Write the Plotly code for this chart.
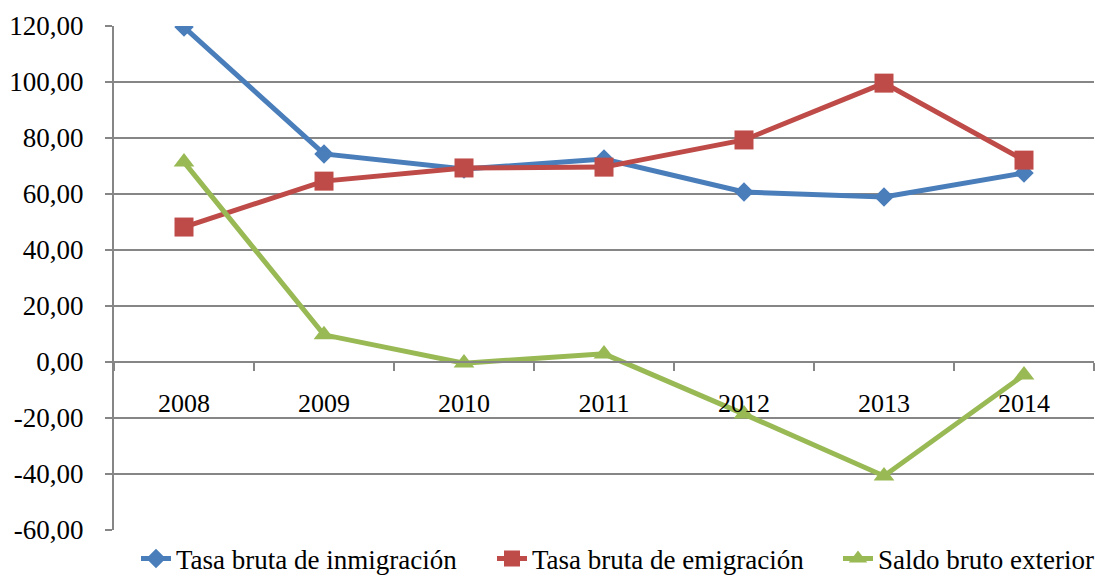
import plotly.graph_objects as go

years = ["2008", "2009", "2010", "2011", "2012", "2013", "2014"]
inmigracion = [119.6, 74.3, 68.9, 72.5, 60.7, 58.9, 67.5]
emigracion = [48.2, 64.6, 69.3, 69.6, 79.3, 99.6, 72.1]
saldo = [71.4, 9.7, -0.4, 2.9, -18.6, -40.7, -4.6]

y_ticks = [-60, -40, -20, 0, 20, 40, 60, 80, 100, 120]
y_labels = ["-60,00", "-40,00", "-20,00", "0,00", "20,00", "40,00",
            "60,00", "80,00", "100,00", "120,00"]

grey = "#868686"
serif = "Liberation Serif"
font = dict(family=serif, size=26, color="black")
yfont = dict(family=serif, size=27, color="black")
legend_font = dict(family=serif, size=27, color="black")

fig = go.Figure()
fig.add_trace(go.Scatter(
    x=years, y=inmigracion, name="Tasa bruta de inmigración",
    mode="lines+markers", legend="legend",
    line=dict(color="#4A7EBB", width=5),
    marker=dict(symbol="diamond", size=15, color="#4A7EBB"),
))
fig.add_trace(go.Scatter(
    x=years, y=emigracion, name="Tasa bruta de emigración",
    mode="lines+markers", legend="legend2",
    line=dict(color="#BE4B48", width=5),
    marker=dict(symbol="square", size=19, color="#BE4B48"),
))
fig.add_trace(go.Scatter(
    x=years, y=saldo, name="Saldo bruto exterior",
    mode="lines+markers", legend="legend3",
    line=dict(color="#98B954", width=5),
    marker=dict(symbol="triangle-up", size=18, color="#98B954"),
))


def legend_at(px):
    # one small legend box per series, placed in pixels along the bottom
    return dict(
        orientation="h",
        x=(px - 114) / 980, xanchor="left",
        y=-(559 - 530) / 504, yanchor="middle",
        font=legend_font,
        bgcolor="rgba(0,0,0,0)",
    )


fig.update_layout(
    width=1095,
    height=576,
    margin=dict(l=114, r=1, t=26, b=46, autoexpand=False),
    paper_bgcolor="white",
    plot_bgcolor="white",
    font=font,
    showlegend=True,
    legend=legend_at(136),
    legend2=legend_at(492),
    legend3=legend_at(838),
    xaxis=dict(
        type="category",
        range=[-0.5, 6.5],
        anchor="free",
        position=1 / 3,
        showline=True,
        linecolor=grey,
        linewidth=2,
        ticks="outside",
        tickson="boundaries",
        ticklen=8,
        tickwidth=2,
        tickcolor=grey,
        showgrid=False,
        ticklabelstandoff=18,
        tickfont=font,
    ),
    yaxis=dict(
        range=[-60, 120],
        tickvals=y_ticks,
        ticktext=y_labels,
        showgrid=True,
        gridcolor=grey,
        gridwidth=2,
        zeroline=False,
        showline=True,
        linecolor=grey,
        linewidth=2,
        ticks="outside",
        ticklen=7,
        tickwidth=2,
        tickcolor=grey,
        ticklabelstandoff=16,
        tickfont=yfont,
    ),
)

fig.write_html(
    "out.html",
    config={"displayModeBar": False},
    post_script="document.body.style.margin='0';document.body.style.overflow='hidden';",
)
